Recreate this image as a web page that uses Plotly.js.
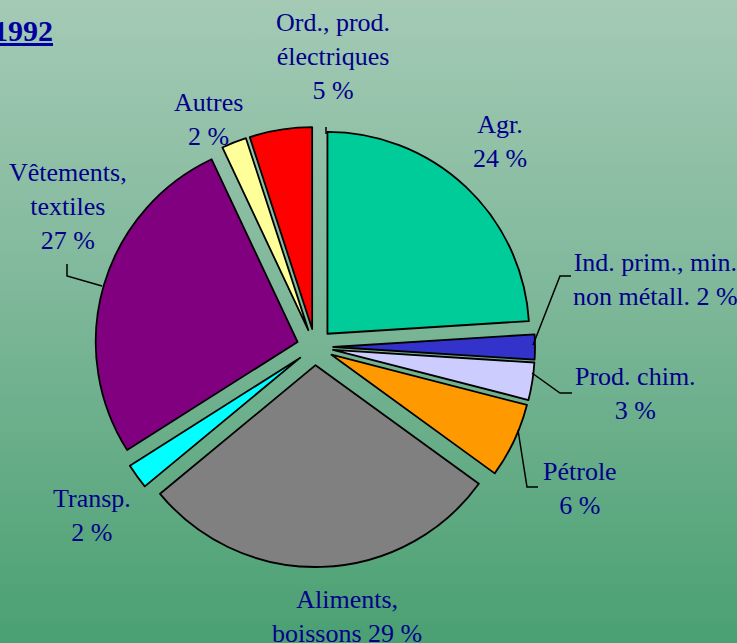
<!DOCTYPE html>
<html>
<head>
<meta charset="utf-8">
<script src="https://cdn.plot.ly/plotly-3.0.1.min.js"></script>
<style>
html,body{margin:0;padding:0;}
#chart{width:737px;height:643px;background:linear-gradient(to bottom,#a4cab5 0%,#7fb89a 45%,#4aa072 100%);}
</style>
</head>
<body>
<div id="chart"></div>
<script>
// Data (1992 shares, %)
const categories = ["Agr.", "Ind. prim., min. non métall.", "Prod. chim.", "Pétrole", "Aliments, boissons", "Transp.", "Vêtements, textiles", "Autres", "Ord., prod. électriques"];
const values = [24, 2, 3, 6, 29, 2, 27, 2, 5];
const labelTexts = ["Agr.<br>24 %", "Ind. prim., min.<br>non métall. 2 %", "Prod. chim.<br>3 %", "Pétrole<br>6 %", "Aliments,<br>boissons 29 %", "Transp.<br>2 %", "Vêtements,<br>textiles<br>27 %", "Autres<br>2 %", "Ord., prod.<br>électriques<br>5 %"];
const colors = ["#00cc99", "#3333cc", "#ccccff", "#ff9900", "#808080", "#00ffff", "#800080", "#ffff99", "#ff0000"];
const titleText = "1992";

const W = 737, H = 643;
const px = (x) => x / W;
const py = (y) => 1 - y / H;

// label centers in pixels (layout only)
const labelPos = [[500, 141], [655, 279], [635, 393], [580, 488], [347, 616], [92, 515], [68, 206], [208, 119], [333, 57]];
const navy = "#00008b";

const annotations = labelTexts.map((t, i) => ({
  text: t, xref: "paper", yref: "paper",
  x: px(labelPos[i][0]), y: py(labelPos[i][1]),
  xanchor: "center", yanchor: "middle", showarrow: false,
  font: {family: "Liberation Serif, Times New Roman, serif", size: 26, color: navy}
}));
annotations.push({
  text: "<b><u>" + titleText + "</u></b>", xref: "paper", yref: "paper",
  x: px(55), y: py(30), xanchor: "right", yanchor: "middle", showarrow: false,
  font: {family: "Liberation Serif, Times New Roman, serif", size: 30, color: "#0000a0"}
});

const leaders = [
  [[533, 345], [560, 276], [571, 276]],
  [[532, 373], [560, 393], [572, 393]],
  [[518, 430], [527, 487], [538, 487]],
  [[102, 286], [67, 276], [67, 264]],
  [[326, 127], [326, 134]]
];
const shapes = leaders.map(pts => ({
  type: "path", xref: "paper", yref: "paper",
  path: pts.map((p, k) => (k ? "L" : "M") + px(p[0]) + "," + py(p[1])).join(" "),
  line: {color: "#000", width: 1.5}
}));

const pull = 0.09;
const trace = {
  type: "pie",
  values: values,
  labels: categories,
  sort: false,
  direction: "clockwise",
  rotation: 0,
  pull: values.map(() => pull),
  textinfo: "none",
  hoverinfo: "label+percent",
  marker: {colors: colors, line: {color: "#000000", width: 1.8}},
  domain: {x: [px(95), px(535)], y: [py(567), py(127)]},
  showlegend: false
};

Plotly.newPlot("chart", [trace], {
  width: W, height: H,
  margin: {l: 0, r: 0, t: 0, b: 0},
  paper_bgcolor: "rgba(0,0,0,0)",
  plot_bgcolor: "rgba(0,0,0,0)",
  annotations: annotations,
  shapes: shapes,
  showlegend: false
}, {displayModeBar: false, staticPlot: true});
</script>
</body>
</html>
